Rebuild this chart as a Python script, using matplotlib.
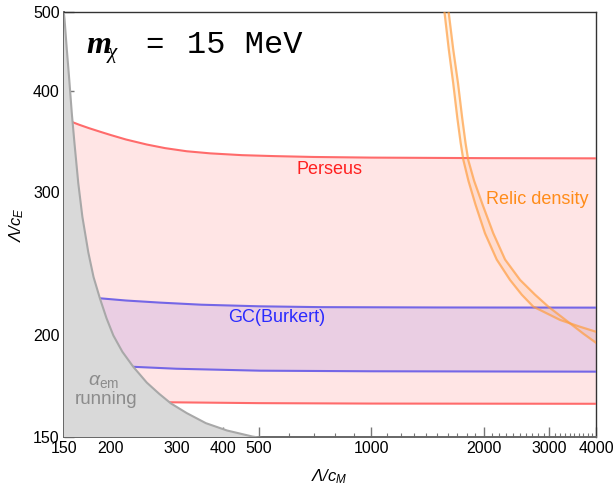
import matplotlib
matplotlib.use("Agg")
import matplotlib.pyplot as plt

plt.rcParams['font.family'] = ['Liberation Sans', 'DejaVu Sans']
plt.rcParams['mathtext.fontset'] = 'custom'
plt.rcParams['mathtext.rm'] = 'Liberation Sans'
plt.rcParams['mathtext.it'] = 'Liberation Sans:italic'
plt.rcParams['mathtext.sf'] = 'Liberation Sans:italic'
plt.rcParams['mathtext.bf'] = 'Liberation Sans:bold'

# ---- data ----
alpha_x = [150, 150.5, 152.5, 155, 157.5, 160, 163.8, 168, 174.3, 180, 187.3, 195, 203.4,
           215, 230, 250, 270, 290, 320, 360, 410, 480, 550]
alpha_y = [497, 490, 452, 412, 374, 345, 308, 280, 253, 236, 222, 210, 200,
           191, 183, 175, 169.5, 165, 160.5, 156, 152.8, 150.2, 148.7]

perseus_up_x = [158, 165, 175, 187, 200, 220, 250, 280, 320, 370, 450, 550, 700, 1000, 2000, 4000]
perseus_up_y = [366, 363.2, 359.8, 356.3, 352.9, 348.4, 343.5, 340.0, 337.0, 335.0, 333.3,
                332.4, 331.6, 331.0, 330.5, 330.3]
perseus_lo_x = [288, 500, 1000, 4000]
perseus_lo_y = [165.5, 165.1, 164.9, 164.8]

gc_up_x = [187.3, 220, 271, 350, 503, 728, 1500, 4000]
gc_up_y = [222.2, 220.8, 219.5, 218.2, 217.2, 216.7, 216.5, 216.4]
gc_lo_x = [230, 300, 503, 1000, 4000]
gc_lo_y = [183.0, 182.0, 181.0, 180.7, 180.5]

relic_in_x = [1570, 1612, 1657, 1700, 1735, 1764, 1820, 1900, 2016, 2167, 2352, 2529,
              2716, 3203, 3600, 4000]
relic_in_y = [500, 450, 408.6, 370, 345, 328.8, 310, 290, 267.1, 248, 234.1, 224.5,
              217.0, 209.0, 205.2, 202.1]
relic_out_x = [1611, 1657, 1707, 1752, 1788, 1818, 1885, 1985, 2122, 2282, 2503, 2745,
               2980, 3406, 3700, 4000]
relic_out_y = [500, 450, 408.6, 370, 345, 328.8, 310, 290, 267.1, 248, 234.1, 224.5,
               217.0, 207.0, 201.0, 195.9]

x_ticks = [150, 200, 300, 400, 500, 1000, 2000, 3000, 4000]
x_tick_labels = ['150', '200', '300', '400', '500', '1000', '2000', '3000', '4000']
x_minor = [600, 700, 800, 900, 1100, 1200, 1300, 1400, 1500, 1600, 1700, 1800, 1900,
           2100, 2200, 2300, 2400, 2500, 2600, 2700, 2800, 2900,
           3100, 3200, 3300, 3400, 3500, 3600, 3700, 3800, 3900]
y_ticks = [150, 200, 300, 400, 500]
y_tick_labels = ['150', '200', '300', '400', '500']

XMIN, XMAX, YMIN, YMAX = 150, 4000, 150, 500

# ---- figure ----
fig = plt.figure(figsize=(6.16, 4.87), dpi=100)
ax = fig.add_axes([64/616, 1-437/487, 532/616, 425/487])
ax.set_xscale('log')
ax.set_yscale('log')
ax.set_xlim(XMIN, XMAX)
ax.set_ylim(YMIN, YMAX)

red_line = '#ff6b6b'
red_fill = (1.0, 0.40, 0.40, 0.17)
gc_line = '#7466e6'
gc_fill = (0.45, 0.30, 0.85, 0.15)
orange_line = (1.0, 0.62, 0.25, 0.7)
orange_fill = (1.0, 0.62, 0.25, 0.12)

# Perseus band
ax.fill(perseus_up_x + perseus_lo_x[::-1] + [XMIN, XMIN],
        perseus_up_y + perseus_lo_y[::-1] + [perseus_lo_y[0], perseus_up_y[0]],
        color=red_fill, lw=0, zorder=1)
# GC band
ax.fill(gc_up_x + gc_lo_x[::-1] + [XMIN, XMIN],
        gc_up_y + gc_lo_y[::-1] + [gc_lo_y[0], gc_up_y[0]],
        color=gc_fill, lw=0, zorder=2)
# relic band
ax.fill(relic_in_x + relic_out_x[::-1], relic_in_y + relic_out_y[::-1],
        color=orange_fill, lw=0, zorder=3)

ax.plot(perseus_up_x, perseus_up_y, color=red_line, lw=1.5, zorder=4)
ax.plot(perseus_lo_x, perseus_lo_y, color=red_line, lw=1.5, zorder=4)
ax.plot(gc_up_x, gc_up_y, color=gc_line, lw=1.5, zorder=4)
ax.plot(gc_lo_x, gc_lo_y, color=gc_line, lw=1.5, zorder=4)
ax.plot(relic_in_x, relic_in_y, color=orange_line, lw=1.6, zorder=4)
ax.plot(relic_out_x, relic_out_y, color=orange_line, lw=1.6, zorder=4)

# alpha_em running region
ax.fill_between(alpha_x, [100]*len(alpha_x), alpha_y, color='#d9d9d9', lw=0, zorder=5)
ax.plot(alpha_x, alpha_y, color='#a8a8a8', lw=1.5, zorder=6)

# labels on plot
ax.text(770, 320, 'Perseus', color='#ff2020', fontsize=13, ha='center', va='center', zorder=7)
ax.text(557, 210.5, 'GC(Burkert)', color='#2a2aff', fontsize=13, ha='center', va='center', zorder=7)
ax.text(2784, 294, 'Relic density', color='#ff8c1a', fontsize=13, ha='center', va='center', zorder=7)
ax.text(192, 175.5, r'$\alpha_{\rm em}$', color='#8c8c8c', fontsize=14, ha='center', va='center', zorder=7)
ax.text(194, 167, 'running', color='#8c8c8c', fontsize=13.5, ha='center', va='center', zorder=7)

# title-like annotation
ax.text(0.043, 0.9035, 'm', transform=ax.transAxes, family='Liberation Serif',
        style='italic', weight='bold', fontsize=23, ha='left', va='baseline', zorder=8)
ax.text(0.0815, 0.891, 'χ', transform=ax.transAxes, family='Liberation Serif',
        style='italic', fontsize=15, ha='left', va='baseline', zorder=8)
ax.text(0.170, 0.9035, '=', transform=ax.transAxes, family='Liberation Mono',
        fontsize=22, ha='center', va='baseline', zorder=8)
ax.text(0.231, 0.9035, '15 MeV', transform=ax.transAxes, family='Liberation Mono',
        fontsize=23, ha='left', va='baseline', zorder=8)

# axes styling
ax.set_xticks(x_ticks)
ax.set_xticklabels(x_tick_labels)
ax.set_xticks(x_minor, minor=True)
ax.set_xticklabels([], minor=True)
ax.set_yticks(y_ticks)
ax.set_yticklabels(y_tick_labels)
ax.set_yticks([], minor=True)
ax.tick_params(axis='both', which='major', direction='in', length=7, width=1,
               color='#777777', labelsize=11.5, pad=3)
ax.tick_params(axis='x', which='minor', direction='in', length=2.8, width=0.8, color='#777777')
for s in ['left', 'bottom']:
    ax.spines[s].set_color('#666666')
    ax.spines[s].set_linewidth(1.4)
for s in ['top', 'right']:
    ax.spines[s].set_color('#333333')
    ax.spines[s].set_linewidth(1.0)

fig.text(311/616, 1-477/487, r'$\mathsf{Λ/c_M}$', fontsize=12, ha='left', va='center')
fig.text(17/616, 1-225/487, r'$\mathsf{Λ/c_E}$', fontsize=12, rotation=90, ha='center', va='center')

fig.savefig('out.png', dpi=100)
